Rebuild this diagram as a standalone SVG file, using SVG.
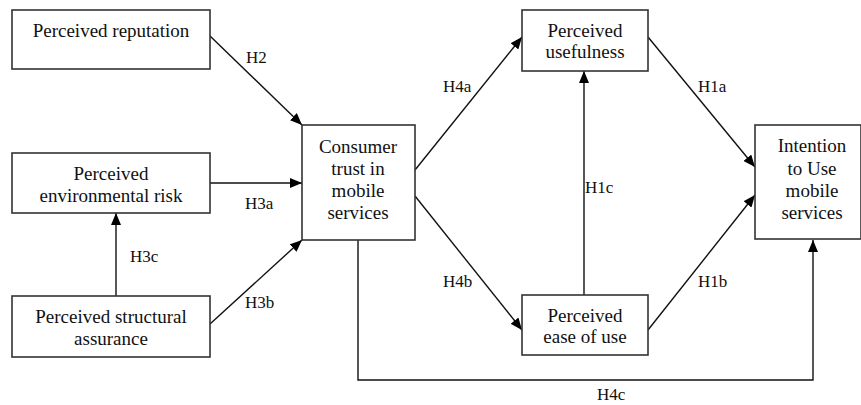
<svg xmlns="http://www.w3.org/2000/svg" width="861" height="405" viewBox="0 0 861 405">
<style>
.box{fill:#fff;stroke:#333;stroke-width:1.6}
.t{font-family:"Liberation Serif","Times New Roman",serif;font-size:19px;fill:#111;text-anchor:middle}
.l{font-family:"Liberation Serif","Times New Roman",serif;font-size:17px;fill:#111}
.c{fill:none;stroke:#111;stroke-width:1.4}
</style>
<defs>
<marker id="ah" viewBox="0 0 12 10" refX="12" refY="5" markerWidth="12" markerHeight="10" markerUnits="userSpaceOnUse" orient="auto">
<path d="M0,0 L12,5 L0,10 Z" fill="#000"/>
</marker>
</defs>
<rect width="861" height="405" fill="#fff"/>
<g id="connectors">
<line class="c" x1="210" y1="36" x2="302" y2="125" marker-end="url(#ah)"/>
<line class="c" x1="210" y1="183" x2="302" y2="183" marker-end="url(#ah)"/>
<line class="c" x1="210" y1="324" x2="302" y2="240" marker-end="url(#ah)"/>
<line class="c" x1="116" y1="296" x2="116" y2="213" marker-end="url(#ah)"/>
<line class="c" x1="415" y1="170" x2="522" y2="37" marker-end="url(#ah)"/>
<line class="c" x1="415" y1="196" x2="522" y2="330" marker-end="url(#ah)"/>
<line class="c" x1="584" y1="295" x2="584" y2="71" marker-end="url(#ah)"/>
<line class="c" x1="648" y1="37" x2="755" y2="167" marker-end="url(#ah)"/>
<line class="c" x1="648" y1="330" x2="755" y2="195" marker-end="url(#ah)"/>
<polyline class="c" points="358,240 358,380 813,380 813,240" marker-end="url(#ah)"/>
<text class="l" x="246" y="63">H2</text>
<text class="l" x="245" y="209">H3a</text>
<text class="l" x="245" y="308">H3b</text>
<text class="l" x="130" y="262">H3c</text>
<text class="l" x="443" y="92">H4a</text>
<text class="l" x="443" y="287">H4b</text>
<text class="l" x="597" y="400">H4c</text>
<text class="l" x="585" y="193">H1c</text>
<text class="l" x="698" y="92">H1a</text>
<text class="l" x="698" y="287">H1b</text>
</g>
<g id="reputation">
<rect class="box" x="12" y="10" width="198" height="59"/>
<text class="t" x="111" y="37">Perceived reputation</text>
</g>
<g id="envrisk">
<rect class="box" x="12" y="153" width="198" height="60"/>
<text class="t" x="111" y="180">Perceived</text>
<text class="t" x="111" y="202">environmental risk</text>
</g>
<g id="structural">
<rect class="box" x="12" y="296" width="198" height="61"/>
<text class="t" x="111" y="323">Perceived structural</text>
<text class="t" x="111" y="345">assurance</text>
</g>
<g id="trust">
<rect class="box" x="302" y="125" width="113" height="115"/>
<text class="t" x="358" y="153">Consumer</text>
<text class="t" x="358" y="175">trust in</text>
<text class="t" x="358" y="197">mobile</text>
<text class="t" x="358" y="219">services</text>
</g>
<g id="usefulness">
<rect class="box" x="522" y="10" width="126" height="61"/>
<text class="t" x="585" y="37">Perceived</text>
<text class="t" x="585" y="58">usefulness</text>
</g>
<g id="easeofuse">
<rect class="box" x="522" y="295" width="126" height="60"/>
<text class="t" x="585" y="322">Perceived</text>
<text class="t" x="585" y="343">ease of use</text>
</g>
<g id="intention">
<rect class="box" x="755" y="125" width="106" height="114"/>
<text class="t" x="812" y="152">Intention</text>
<text class="t" x="812" y="175">to Use</text>
<text class="t" x="812" y="197">mobile</text>
<text class="t" x="812" y="219">services</text>
</g>
</svg>
